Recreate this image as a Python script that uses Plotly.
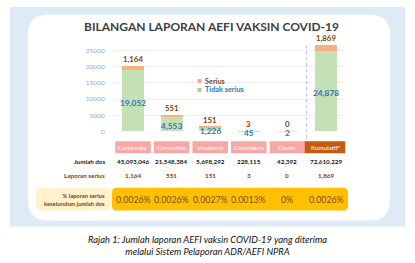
import plotly.graph_objects as go

# ---------------- data ----------------
categories = ["Comirnaty", "CoronaVac", "Vaxzevria", "Convidecia", "Covilo", "Kumulatif*"]
tidak_serius = [19052, 4553, 1226, 45, 2, 24878]
serius = [1164, 551, 151, 3, 0, 1869]
jumlah_dos = ["45,093,046", "21,548,384", "5,698,292", "228,115", "42,392", "72,610,229"]
laporan_serius = ["1,164", "551", "151", "3", "0", "1,869"]
peratus = ["0.0026%", "0.0026%", "0.0027%", "0.0013%", "0%", "0.0026%"]
y_ticks = [0, 5000, 10000, 15000, 20000, 25000]

W, H = 415, 263
def px(x): return x / W
def py(y): return 1 - y / H

FONT = "Lato"
BROWN = "#843C0C"
BLUE = "#2E75B6"
GREEN = "#C5E0B4"
ORANGE = "#F4B183"

fig = go.Figure()
fig.add_trace(go.Bar(x=categories, y=tidak_serius, name="Tidak serius", showlegend=False,
                     marker=dict(color=GREEN, line=dict(width=0)), width=0.57, hoverinfo="skip"))
fig.add_trace(go.Bar(x=categories, y=serius, name="Serius", showlegend=False,
                     marker=dict(color=ORANGE, line=dict(width=0)), width=0.57, hoverinfo="skip"))

shapes = []
def rrect(x0, y0, x1, y1, r, color, layer="below"):
    rx, ry = r / W, r / H
    X0, X1 = px(x0), px(x1)
    Y0, Y1 = py(y0), py(y1)
    path = (f"M {X0+rx},{Y0} L {X1-rx},{Y0} Q {X1},{Y0} {X1},{Y0-ry} "
            f"L {X1},{Y1+ry} Q {X1},{Y1} {X1-rx},{Y1} L {X0+rx},{Y1} "
            f"Q {X0},{Y1} {X0},{Y1+ry} L {X0},{Y0-ry} Q {X0},{Y0} {X0+rx},{Y0} Z")
    return dict(type="path", path=path, xref="paper", yref="paper",
                fillcolor=color, line=dict(width=0), layer=layer)

shapes.append(dict(type="rect", xref="paper", yref="paper", x0=px(10), x1=px(405), y0=py(229), y1=py(7),
                   fillcolor="#DEEBF7", line=dict(width=0), layer="below"))
shapes.append(rrect(28, 15, 390, 223, 20, "white"))
shapes.append(rrect(36, 190, 111, 213, 5, "#FFF2CC"))
shapes.append(rrect(112, 190, 348, 213, 5, "#FFC000"))
shapes.append(dict(type="line", xref="x", yref="paper", x0=4.5, x1=4.5, y0=py(146), y1=py(46),
                   line=dict(color="#9DC3E6", width=1, dash="dot"), layer="above"))
for i, c in enumerate(categories):
    hw = 0.55 if i == 5 else 0.46
    col = "#C55A11" if i == 5 else "#F8A7A7"
    shapes.append(dict(type="rect", xref="x", yref="paper", x0=i - hw, x1=i + hw, y0=py(155), y1=py(143),
                       fillcolor=col, line=dict(width=0), layer="above"))

# legend (manual)
legend_items = [("Serius", "#F4A0A0", BROWN, 82), ("Tidak serius", "#A9D18E", BLUE, 91)]
ann = []
for name, sq, tc, yy in legend_items:
    shapes.append(dict(type="rect", xref="paper", yref="paper", x0=px(197.5), x1=px(201.5),
                       y0=py(yy + 2), y1=py(yy - 2), fillcolor=sq, line=dict(width=0), layer="above"))
    ann.append(dict(text=f"<b>{name}</b>", x=px(203), y=py(yy), xref="paper", yref="paper", showarrow=False,
                    font=dict(family=FONT, size=7.3, color=tc), xanchor="left", yanchor="middle"))

ann.append(dict(text="<b>BILANGAN LAPORAN AEFI VAKSIN COVID-19</b>", x=px(211), y=py(27), xref="paper", yref="paper",
                showarrow=False, font=dict(family=FONT, size=12, color="#404040"), xanchor="center", yanchor="middle"))
for i, c in enumerate(categories):
    tot = tidak_serius[i] + serius[i]
    ann.append(dict(text=f"<b>{serius[i]:,}</b>", x=c, y=tot, xref="x", yref="y", yshift=1,
                    showarrow=False, font=dict(family=FONT, size=7.8, color=BROWN), yanchor="bottom", borderpad=0))
    ann.append(dict(text=f"<b>{tidak_serius[i]:,}</b>", x=c, y=tidak_serius[i] / 2, xref="x", yref="y", yshift=-2,
                    showarrow=False, font=dict(family=FONT, size=8.3, color=BLUE), yanchor="middle", borderpad=0))
    ann.append(dict(text=c, x=c, y=py(149), xref="x", yref="paper", showarrow=False,
                    font=dict(family=FONT, size=6.3, color="white"), yanchor="middle"))
    ann.append(dict(text=f"<b>{jumlah_dos[i]}</b>", x=c, y=py(163), xref="x", yref="paper", showarrow=False,
                    font=dict(family=FONT, size=6.3, color="#202020"), yanchor="middle"))
    ann.append(dict(text=f"<b>{laporan_serius[i]}</b>", x=c, y=py(178), xref="x", yref="paper", showarrow=False,
                    font=dict(family=FONT, size=6.3, color=BROWN), yanchor="middle"))
    ann.append(dict(text=peratus[i], x=c, y=py(201.5), xref="x", yref="paper", showarrow=False,
                    font=dict(family=FONT, size=8.8, color="#7F4A10"), yanchor="middle"))

ann.append(dict(text="<b>Jumlah dos</b>", x=px(107), y=py(163), xref="paper", yref="paper", showarrow=False,
                font=dict(family=FONT, size=6.3, color="#202020"), xanchor="right", yanchor="middle"))
ann.append(dict(text="<b>Laporan serius</b>", x=px(107), y=py(178), xref="paper", yref="paper", showarrow=False,
                font=dict(family=FONT, size=6.3, color=BROWN), xanchor="right", yanchor="middle"))
ann.append(dict(text="<b>% laporan serius</b><br><b>keseluruhan jumlah dos</b>", x=px(107), y=py(202), xref="paper",
                yref="paper", showarrow=False, align="right",
                font=dict(family=FONT, size=5.8, color=BROWN), xanchor="right", yanchor="middle"))
ann.append(dict(text="<i>Rajah 1: Jumlah laporan AEFI vaksin COVID-19 yang diterima</i><br><i>melalui Sistem Pelaporan ADR/AEFI NPRA</i>",
                x=px(207), y=py(248.5), xref="paper", yref="paper", showarrow=False, align="center",
                font=dict(family=FONT, size=9.4, color="#111111"), xanchor="center", yanchor="middle"))

fig.update_layout(
    width=W, height=H, margin=dict(l=0, r=0, t=0, b=0),
    paper_bgcolor="white", plot_bgcolor="rgba(0,0,0,0)",
    barmode="stack", showlegend=False,
    font=dict(family=FONT),
    shapes=shapes, annotations=ann,
    xaxis=dict(domain=[px(113.7), px(345.3)], range=[-0.5, 5.5], showticklabels=False,
               showgrid=False, zeroline=False, showline=False, ticks=""),
    yaxis=dict(domain=[py(133), py(42.8)], range=[0, 27500], tickvals=y_ticks,
               ticktext=[str(v) for v in y_ticks], showgrid=True, gridcolor="#EFEFEF", gridwidth=1,
               zeroline=False, showline=False, ticks="", ticklabelstandoff=8,
               tickfont=dict(family=FONT, size=6.5, color="#8FAAD0")),
)

fig.write_html("out.html")
